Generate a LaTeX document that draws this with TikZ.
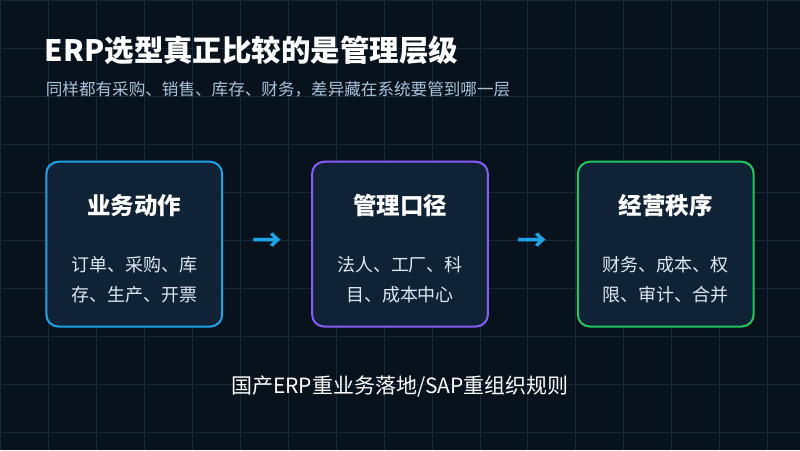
\documentclass[tikz,border=0pt]{standalone}
\usepackage{fontspec}
\setmainfont{Noto Sans CJK SC}
\usetikzlibrary{positioning}
\definecolor{bgdark}{HTML}{08121D}
\definecolor{gridline}{HTML}{132A3D}
\definecolor{boxfill}{HTML}{0F2236}
\definecolor{bblue}{HTML}{1EA3E6}
\definecolor{bpurple}{HTML}{8B5CF6}
\definecolor{bgreen}{HTML}{22C55E}
\definecolor{subgray}{HTML}{A9C2D9}
\definecolor{bodytxt}{HTML}{DCE8F4}

\begin{document}
\begin{tikzpicture}[x=1pt,y=-1pt,
    stage/.style={rectangle,draw=#1,line width=2pt,fill=boxfill,rounded corners=12pt,minimum width=176pt,minimum height=165pt},
    stagetitle/.style={font=\fontsize{23.5}{28}\selectfont\bfseries,text=white},
    stagebody/.style={font=\fontsize{18}{30}\selectfont,text=bodytxt,align=center},
    flow/.style={font=\fontsize{30}{30}\selectfont\bfseries,text=bblue}]
    % Hintergrund mit Raster
    \fill[bgdark] (0,0) rectangle (800,450);
    \foreach \k in {0,48,...,800} \draw[gridline,line width=0.8pt] (\k,0) -- (\k,450);
    \foreach \k in {0,48,...,450} \draw[gridline,line width=0.8pt] (0,\k) -- (800,\k);
    \useasboundingbox (0,0) rectangle (800,450);

    % Titel
    \node[anchor=west,font=\fontsize{29.5}{32}\selectfont\bfseries,text=white] (title) at (41,50) {ERP选型真正比较的是管理层级};
    \node[anchor=west,font=\fontsize{16.6}{19}\selectfont,text=subgray] (subtitle) at (42,89) {同样都有采购、销售、库存、财务，差异藏在系统要管到哪一层};

    % Stufen
    \node[stage=bblue] (action) at (134,244) {};
    \node[stagetitle] at (134,205) {业务动作};
    \node[stagebody] at (134,280) {订单、采购、库\\存、生产、开票};

    \node[stage=bpurple] (caliber) at (400,244) {};
    \node[stagetitle] at (400,205) {管理口径};
    \node[stagebody] at (400,280) {法人、工厂、科\\目、成本中心};

    \node[stage=bgreen] (order) at (666,244) {};
    \node[stagetitle] at (666,205) {经营秩序};
    \node[stagebody] at (666,280) {财务、成本、权\\限、审计、合并};

    \node[flow] (arrowa) at (267,242) {→};
    \node[flow] (arrowb) at (533,242) {→};

    % Fazit
    \node[font=\fontsize{21}{24}\selectfont,text=white] (summary) at (400,387) {国产ERP重业务落地/SAP重组织规则};
\end{tikzpicture}
\end{document}
